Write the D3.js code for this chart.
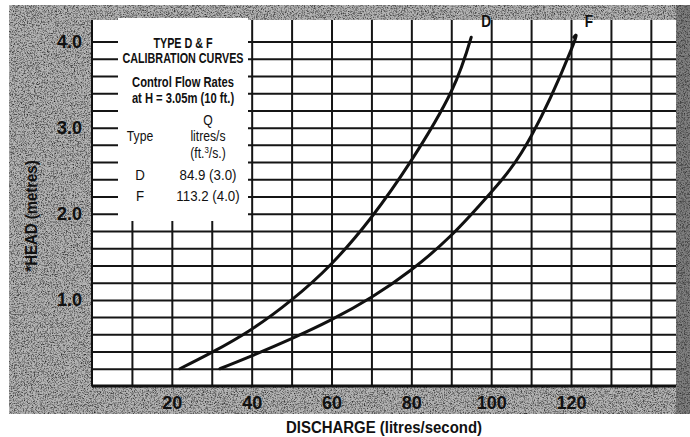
<!DOCTYPE html>
<html>
<head>
<meta charset="utf-8">
<script src="https://cdn.jsdelivr.net/npm/d3@7"></script>
<style>
    body { margin: 0; background: #fff; }
    text { font-family: "Liberation Sans", Arial, sans-serif; }
</style>
</head>
<body>
<svg id="chart" width="690" height="437"></svg>
<script>
// discharge (l/s) and head (m)
var xTicks = [20, 40, 60, 80, 100, 120];
var yTicks = [1.0, 2.0, 3.0, 4.0];

var curveD_q = [22, 30, 40, 50, 60, 70, 80, 90, 95];
var curveD_h = [0.2, 0.39, 0.66, 1.0, 1.42, 1.96, 2.62, 3.42, 4.05];

var curveF_q = [32, 40, 50, 60, 70, 80, 90, 100, 110, 120, 120.7];
var curveF_h = [0.2, 0.35, 0.55, 0.77, 1.03, 1.35, 1.75, 2.25, 2.9, 3.9, 4.05];

var boxTitle = ["TYPE D & F", "CALIBRATION CURVES"];
var boxSub = ["Control Flow Rates", "at H = 3.05m (10 ft.)"];
var rowTypes = ["D", "F"];
var rowRates = ["84.9 (3.0)", "113.2 (4.0)"];

var svg = d3.select("#chart");
var margin = {top: 20, right: 14, bottom: 51, left: 92};
var W = 690, H = 437;
var w = W - margin.left - margin.right,
    h = H - margin.top - margin.bottom;

// condensed text: the scan uses a narrow grotesque
function label(parent, x, y, str, size, weight, k) {
    return parent.append("text")
        .attr("transform", "translate(" + x + "," + y + ") scale(" + k + ",1)")
        .style("font-size", size + "px")
        .style("font-weight", weight)
        .text(str);
}

// speckled grey paper round the plot
var defs = svg.append("defs");
function grain(id, freq, seed, alpha) {
    var f = defs.append("filter").attr("id", id)
        .attr("filterUnits", "userSpaceOnUse")
        .attr("x", 0).attr("y", 0).attr("width", W).attr("height", H);
    f.append("feTurbulence").attr("type", "fractalNoise")
        .attr("baseFrequency", freq).attr("numOctaves", 3).attr("seed", seed);
    f.append("feColorMatrix").attr("type", "matrix")
        .attr("values", "0 0 0 0 0  0 0 0 0 0  0 0 0 0 0  " + alpha);
    f.append("feComposite").attr("in2", "SourceGraphic").attr("operator", "in");
}
grain("grainDark", 0.7, 7, "2.6 0 0 0 -1.3");
grain("grainLight", 0.9, 3, "0 2.6 0 0 -1.3");

var paper = {x: 9, y: 5, h: 409};
svg.append("rect").attr("x", paper.x).attr("y", paper.y).attr("width", W - paper.x).attr("height", paper.h)
    .attr("fill", "#b4b4b4");
svg.append("rect").attr("x", paper.x).attr("y", paper.y).attr("width", W - paper.x).attr("height", paper.h)
    .attr("fill", "#6a6a6a").attr("filter", "url(#grainDark)").attr("opacity", 0.7);
svg.append("rect").attr("x", paper.x).attr("y", paper.y).attr("width", W - paper.x).attr("height", paper.h)
    .attr("fill", "#f2f2f2").attr("filter", "url(#grainLight)").attr("opacity", 0.7);
svg.append("rect").attr("x", W - margin.right).attr("y", paper.y).attr("width", margin.right).attr("height", paper.h)
    .attr("fill", "#333").attr("opacity", 0.4);

var g = svg.append("g").attr("transform", "translate(" + margin.left + "," + margin.top + ")");

var x = d3.scaleLinear().domain([0, 146.3]).range([0, w]);
var y = d3.scaleLinear().domain([0, 4.25]).range([h, 0]);

g.append("rect").attr("width", w).attr("height", h).attr("fill", "#fff");

// grid
g.append("g").attr("class", "grid")
    .attr("transform", "translate(0," + h + ")")
    .call(d3.axisBottom(x).tickValues(d3.range(10, 141, 10)).tickSize(-h).tickFormat(""))
    .call(function(s) { s.select(".domain").remove(); });

g.append("g").attr("class", "grid")
    .call(d3.axisLeft(y).tickValues(d3.range(1, 21).map(function(i) { return i * 0.2; })).tickSize(-w).tickFormat(""))
    .call(function(s) { s.select(".domain").remove(); });

g.selectAll(".grid line").attr("stroke", "#151515").attr("stroke-width", 2);

// white legend box hiding the grid
var box = {x0: 26, x1: 156, y1: 201};
g.append("rect").attr("x", box.x0).attr("y", -2).attr("width", box.x1 - box.x0).attr("height", box.y1 + 2)
    .attr("fill", "#fff");

// frame: left and bottom edges
g.append("line").attr("x1", 0).attr("x2", 0).attr("y1", 0).attr("y2", h)
    .attr("stroke", "#111").attr("stroke-width", 2);
g.append("line").attr("x1", 0).attr("x2", w).attr("y1", h).attr("y2", h)
    .attr("stroke", "#111").attr("stroke-width", 3);

// axes labels
var xAxis = g.append("g").attr("transform", "translate(0," + h + ")")
    .call(d3.axisBottom(x).tickValues(xTicks).tickSize(0).tickPadding(10));
var yAxis = g.append("g")
    .call(d3.axisLeft(y).tickValues(yTicks).tickSize(0).tickPadding(10).tickFormat(d3.format(".1f")));
[xAxis, yAxis].forEach(function(a) {
    a.select(".domain").remove();
    a.selectAll("text").attr("fill", "#111")
        .style("font-family", "'Liberation Sans', Arial, sans-serif")
        .style("font-size", "18px").style("font-weight", "bold");
});

var yTitle = svg.append("g").attr("transform", "translate(37,216) rotate(-90)")
    .attr("text-anchor", "middle").attr("fill", "#111");
label(yTitle, 0, 0, "*HEAD (metres)", 17, "bold", 0.88);

var xTitle = svg.append("g").attr("text-anchor", "middle").attr("fill", "#111");
label(xTitle, 384, 433, "DISCHARGE (litres/second)", 17, "bold", 0.88);

// curves
var line = d3.line()
    .x(function(d) { return x(d[0]); })
    .y(function(d) { return y(d[1]); })
    .curve(d3.curveNatural);

var series = [
    {name: "D", data: d3.zip(curveD_q, curveD_h)},
    {name: "F", data: d3.zip(curveF_q, curveF_h)}
];

series.forEach(function(s) {
    g.append("path").datum(s.data)
        .attr("d", line)
        .attr("fill", "none").attr("stroke", "#111").attr("stroke-width", 3)
        .attr("stroke-linecap", "round");
    var last = s.data[s.data.length - 1];
    var lg = g.append("g").attr("text-anchor", "middle").attr("fill", "#111");
    label(lg, x(last[0]) + 15, y(last[1]) - 10, s.name, 16, "bold", 0.85);
});

// box text
var tx = (box.x0 + box.x1) / 2;
var bt = g.append("g").attr("fill", "#111").attr("text-anchor", "middle");
boxTitle.forEach(function(t, i) {
    label(bt, tx, 28 + i * 15, t, 14, "bold", 0.77);
});
boxSub.forEach(function(t, i) {
    label(bt, tx, 67 + i * 16, t, 14, "bold", 0.8);
});
var colType = 48, colRate = 116;
label(bt, colRate, 105, "Q", 14, "normal", 0.87);
label(bt, colType, 121, "Type", 14, "normal", 0.87);
label(bt, colRate, 121, "litres/s", 14, "normal", 0.87);
var ft = label(bt, colRate, 138, "", 14, "normal", 0.87);
ft.append("tspan").text("(ft.");
ft.append("tspan").attr("dy", -5).style("font-size", "9px").text("3");
ft.append("tspan").attr("dy", 5).text("/s.)");
rowTypes.forEach(function(t, i) {
    label(bt, colType, 160 + i * 21, t, 14, "normal", 0.95);
    label(bt, colRate, 160 + i * 21, rowRates[i], 14, "normal", 0.95);
});
</script>
</body>
</html>
